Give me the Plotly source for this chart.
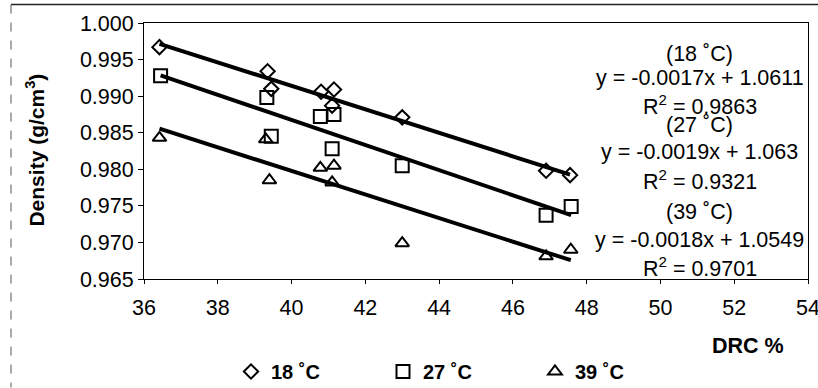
import numpy as np
import plotly.graph_objects as go

# DRC % (x) and density in g/cm3 (y) for each temperature
drc_18 = [36.42, 39.35, 39.45, 40.80, 41.15, 41.10, 43.00, 46.90, 47.55]
dens_18 = [0.9967, 0.9934, 0.9910, 0.9906, 0.9909, 0.9887, 0.9871, 0.9798, 0.9792]

drc_27 = [36.45, 39.33, 39.45, 40.78, 41.15, 41.10, 43.00, 46.90, 47.58]
dens_27 = [0.9928, 0.9898, 0.9845, 0.9872, 0.9875, 0.9828, 0.9805, 0.9737, 0.9749]

drc_39 = [36.42, 39.30, 39.40, 40.78, 41.15, 41.10, 43.00, 46.90, 47.57]
dens_39 = [0.9843, 0.9841, 0.9785, 0.9802, 0.9805, 0.9782, 0.9699, 0.9681, 0.9690]

series_names = ["18 ˚C", "27 ˚C", "39 ˚C"]
symbols = ["diamond-open", "square-open", "triangle-up-open"]
marker_sizes = [11, 13, 12]

eq_labels = [
    ["(18 ˚C)", "y = -0.0017x + 1.0611", "R<sup>2</sup> = 0.9863"],
    ["(27 ˚C)", "y = -0.0019x + 1.063", "R<sup>2</sup> = 0.9321"],
    ["(39 ˚C)", "y = -0.0018x + 1.0549", "R<sup>2</sup> = 0.9701"],
]

FONT = "Liberation Sans, Arial, sans-serif"

fig = go.Figure()

data = [(drc_18, dens_18), (drc_27, dens_27), (drc_39, dens_39)]

# linear trendlines (least squares) over each series' x span
for xs, ys in data:
    k, b = np.polyfit(xs, ys, 1)
    xl = np.array([min(xs), max(xs)])
    fig.add_trace(go.Scatter(x=xl, y=k * xl + b, mode="lines",
                             line=dict(color="black", width=4),
                             showlegend=False, hoverinfo="skip"))

for (xs, ys), name, sym, ms in zip(data, series_names, symbols, marker_sizes):
    fig.add_trace(go.Scatter(x=xs, y=ys, mode="markers", name=name,
                             marker=dict(symbol=sym, size=ms, color="black",
                                         line=dict(color="black", width=2))))

# regression equations at the right of the plot
eq_y_px = [[54, 78, 105], [125, 152, 180], [212, 240, 267]]
plot_top, plot_bot = 23.4, 279.5
for labels, ys in zip(eq_labels, eq_y_px):
    for txt, py in zip(labels, ys):
        fig.add_annotation(x=0.837, y=(plot_bot - py) / (plot_bot - plot_top),
                           xref="paper", yref="paper", text=txt, showarrow=False,
                           xanchor="center", yanchor="middle",
                           font=dict(family=FONT, size=21.5, color="black"))

# axis titles
fig.add_annotation(x=(35 - 144) / 664, y=(plot_bot - 151) / (plot_bot - plot_top),
                   xref="paper", yref="paper", textangle=-90, showarrow=False,
                   xanchor="center", yanchor="middle",
                   text="<b>Density (g/cm<sup>3</sup>)</b>",
                   font=dict(family=FONT, size=21, color="black"))
fig.add_annotation(x=(748 - 144) / 664, y=(plot_bot - 347) / (plot_bot - plot_top),
                   xref="paper", yref="paper", showarrow=False,
                   text="<b>DRC %</b>", xanchor="center", yanchor="middle",
                   font=dict(family=FONT, size=21.5, color="black"))

# outer chart frame (top and left edges)
fx0 = (11 - 144) / 664
fy_top = (plot_bot - 5) / (plot_bot - plot_top)
fy_bot = (plot_bot - 388) / (plot_bot - plot_top)
fig.add_shape(type="line", xref="paper", yref="paper", x0=fx0, x1=1.1,
              y0=fy_top, y1=fy_top, line=dict(color="#222", width=1.5))
fig.add_shape(type="line", xref="paper", yref="paper", x0=fx0, x1=fx0,
              y0=fy_top, y1=fy_bot, line=dict(color="#555", width=1, dash="dash"))

fig.update_xaxes(range=[36, 54], tickvals=list(range(36, 55, 2)),
                 showgrid=False, zeroline=False, showline=True, mirror=True,
                 linecolor="black", linewidth=1, ticks="outside", ticklen=4,
                 tickcolor="black", ticklabeloverflow="allow", automargin=False,
                 ticklabelstandoff=5,
                 tickfont=dict(family=FONT, size=21.5, color="black"))
fig.update_yaxes(range=[0.965, 1.000], dtick=0.005, tickformat=".3f",
                 showgrid=False, zeroline=False, showline=True, mirror=True,
                 linecolor="black", linewidth=1, ticks="outside", ticklen=5,
                 tickcolor="black", ticklabeloverflow="allow", automargin=False,
                 tickfont=dict(family=FONT, size=21.5, color="black"))

fig.update_layout(
    width=818, height=388,
    margin=dict(l=144, r=10, t=23.4, b=108.5, autoexpand=False),
    paper_bgcolor="white", plot_bgcolor="white",
    legend=dict(orientation="h", x=(231 - 144) / 664,
                y=(plot_bot - 372) / (plot_bot - plot_top),
                xanchor="left", yanchor="middle",
                entrywidth=107, entrywidthmode="pixels",
                font=dict(family=FONT, size=20, color="black", weight="bold"),
                bgcolor="rgba(0,0,0,0)"),
)

fig.write_html("out.html")
